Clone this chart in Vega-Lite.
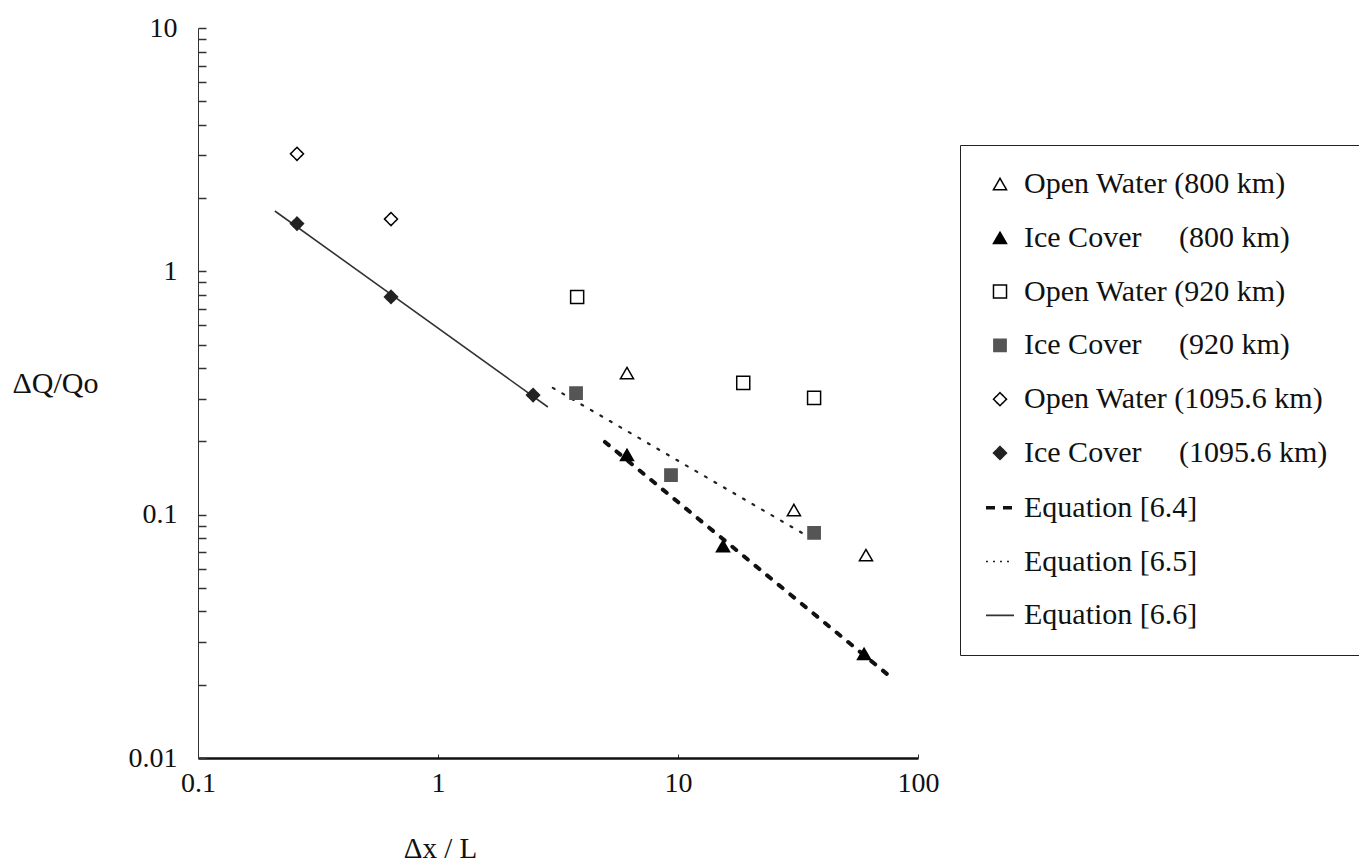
{
  "$schema": "https://vega.github.io/schema/vega-lite/v6.json",
  "width": 720,
  "height": 730,
  "autosize": {"type": "none"},
  "padding": {"left": 198, "top": 28, "right": 441, "bottom": 107},
  "background": "white",
  "config": {
    "view": {"stroke": null},
    "font": "Liberation Serif",
    "axis": {"grid": false, "labelFont": "Liberation Serif", "titleFont": "Liberation Serif", "labelColor": "#111", "titleColor": "#111", "titleFontWeight": "normal"},
    "legend": {"orient": "none", "legendX": 762, "legendY": 117, "titleOrient": "right", "titlePadding": 50, "titleFontSize": 10, "padding": 24, "rowPadding": 23.8, "strokeColor": "#222", "fillColor": "white", "labelOffset": 8, "labelFont": "Liberation Serif", "labelFontSize": 30, "labelLimit": 500, "labelColor": "#111", "labelBaseline": "middle"}
  },
  "datasets": {
    "points": [
      {"series": "Open Water (800 km)", "x": 6.13, "y": 0.382},
      {"series": "Open Water (800 km)", "x": 30.4, "y": 0.1045},
      {"series": "Open Water (800 km)", "x": 60.7, "y": 0.0682},
      {"series": "Ice Cover (800 km)", "x": 6.13, "y": 0.176},
      {"series": "Ice Cover (800 km)", "x": 15.4, "y": 0.0743},
      {"series": "Ice Cover (800 km)", "x": 59.6, "y": 0.0268},
      {"series": "Open Water (920 km)", "x": 3.80, "y": 0.785},
      {"series": "Open Water (920 km)", "x": 18.7, "y": 0.348},
      {"series": "Open Water (920 km)", "x": 36.9, "y": 0.302},
      {"series": "Ice Cover (920 km)", "x": 3.76, "y": 0.316},
      {"series": "Ice Cover (920 km)", "x": 9.35, "y": 0.1455},
      {"series": "Ice Cover (920 km)", "x": 36.9, "y": 0.0841},
      {"series": "Open Water (1095.6 km)", "x": 0.2585, "y": 3.04},
      {"series": "Open Water (1095.6 km)", "x": 0.637, "y": 1.64},
      {"series": "Ice Cover (1095.6 km)", "x": 0.2585, "y": 1.57},
      {"series": "Ice Cover (1095.6 km)", "x": 0.637, "y": 0.785},
      {"series": "Ice Cover (1095.6 km)", "x": 2.49, "y": 0.310}
    ],
    "equations": [
      {"series": "Equation [6.4]", "x": 4.96, "y": 0.199},
      {"series": "Equation [6.4]", "x": 77.9, "y": 0.0213},
      {"series": "Equation [6.5]", "x": 3.01, "y": 0.332},
      {"series": "Equation [6.5]", "x": 32.9, "y": 0.0841},
      {"series": "Equation [6.6]", "x": 0.209, "y": 1.77},
      {"series": "Equation [6.6]", "x": 2.87, "y": 0.277}
    ]
  },
  "encoding": {
    "x": {
      "field": "x", "type": "quantitative",
      "scale": {"type": "log", "domain": [0.1, 100], "nice": false},
      "title": "Δx / L",
      "axis": {
        "values": [0.1, 1, 10, 100],
        "labelExpr": "datum.value === 0.1 ? '0.1' : datum.value === 1 ? '1' : datum.value === 10 ? '10' : '100'",
        "labelFontSize": 28, "labelPadding": 29, "labelBaseline": "middle", "labelFlush": false, "labelOverlap": false,
        "tickSize": -4, "tickColor": "#333", "tickWidth": 1,
        "domainColor": "#111", "domainWidth": 2.5,
        "titleFontSize": 29, "titleX": 242, "titleY": 90, "titleAnchor": null, "titleAlign": "center", "titleBaseline": "middle"
      }
    },
    "y": {
      "field": "y", "type": "quantitative",
      "scale": {"type": "log", "domain": [0.01, 10], "nice": false},
      "title": "ΔQ/Qo",
      "axis": {
        "values": [0.01, 0.02, 0.03, 0.04, 0.05, 0.06, 0.07, 0.08, 0.09, 0.1, 0.2, 0.3, 0.4, 0.5, 0.6, 0.7, 0.8, 0.9, 1, 2, 3, 4, 5, 6, 7, 8, 9, 10],
        "labelExpr": "datum.value === 0.01 ? '0.01' : datum.value === 0.1 ? '0.1' : datum.value === 1 ? '1' : datum.value === 10 ? '10' : ''",
        "labelFontSize": 28, "labelPadding": 29, "labelFlush": false, "labelOverlap": false,
        "tickSize": -8, "tickColor": "#333", "tickWidth": 1.5,
        "domainColor": "#333", "domainWidth": 1,
        "titleFontSize": 30, "titleAngle": 0, "titleX": -143, "titleY": 355, "titleAlign": "center", "titleBaseline": "middle", "titleAnchor": null
      }
    }
  },
  "layer": [
    {
      "data": {"name": "equations"},
      "transform": [{"filter": "datum.series === 'Equation [6.6]'"}],
      "mark": {"type": "line", "stroke": "#333", "strokeWidth": 1.6},
      "encoding": {}
    },
    {
      "data": {"name": "equations"},
      "transform": [{"filter": "datum.series === 'Equation [6.5]'"}],
      "mark": {"type": "line", "stroke": "#222", "strokeWidth": 2.2, "strokeDash": [2, 9], "strokeCap": "round"},
      "encoding": {}
    },
    {
      "data": {"name": "equations"},
      "transform": [{"filter": "datum.series === 'Equation [6.4]'"}],
      "mark": {"type": "line", "stroke": "#111", "strokeWidth": 4, "strokeDash": [5, 10], "strokeCap": "round"},
      "encoding": {}
    },
    {
      "data": {"name": "points"},
      "mark": {"type": "point", "filled": false, "opacity": 1},
      "encoding": {
        "shape": {
          "field": "series", "type": "nominal",
          "scale": {
            "domain": ["Open Water (800 km)", "Ice Cover (800 km)", "Open Water (920 km)", "Ice Cover (920 km)", "Open Water (1095.6 km)", "Ice Cover (1095.6 km)", "Equation [6.4]", "Equation [6.5]", "Equation [6.6]"],
            "range": ["triangle-up", "triangle-up", "square", "square", "diamond", "diamond", "stroke", "stroke", "stroke"]
          },
          "legend": {"title": "\u00a0", "labelExpr": "replace(datum.label, 'Cover (', 'Cover\u00a0\u00a0\u00a0\u00a0\u00a0(')"}
        },
        "fill": {
          "field": "series", "type": "nominal",
          "scale": {
            "domain": ["Open Water (800 km)", "Ice Cover (800 km)", "Open Water (920 km)", "Ice Cover (920 km)", "Open Water (1095.6 km)", "Ice Cover (1095.6 km)", "Equation [6.4]", "Equation [6.5]", "Equation [6.6]"],
            "range": ["white", "black", "white", "#555", "white", "#222", "transparent", "transparent", "transparent"]
          },
          "legend": {"title": "\u00a0", "labelExpr": "replace(datum.label, 'Cover (', 'Cover\u00a0\u00a0\u00a0\u00a0\u00a0(')"}
        },
        "stroke": {
          "field": "series", "type": "nominal",
          "scale": {
            "domain": ["Open Water (800 km)", "Ice Cover (800 km)", "Open Water (920 km)", "Ice Cover (920 km)", "Open Water (1095.6 km)", "Ice Cover (1095.6 km)", "Equation [6.4]", "Equation [6.5]", "Equation [6.6]"],
            "range": ["black", "black", "black", "#555", "black", "#222", "#111", "#222", "#333"]
          },
          "legend": {"title": "\u00a0", "labelExpr": "replace(datum.label, 'Cover (', 'Cover\u00a0\u00a0\u00a0\u00a0\u00a0(')"}
        },
        "size": {
          "field": "series", "type": "nominal",
          "scale": {
            "type": "ordinal",
            "domain": ["Open Water (800 km)", "Ice Cover (800 km)", "Open Water (920 km)", "Ice Cover (920 km)", "Open Water (1095.6 km)", "Ice Cover (1095.6 km)", "Equation [6.4]", "Equation [6.5]", "Equation [6.6]"],
            "range": [170, 170, 170, 150, 170, 170, 784, 784, 784]
          },
          "legend": {"title": "\u00a0", "labelExpr": "replace(datum.label, 'Cover (', 'Cover\u00a0\u00a0\u00a0\u00a0\u00a0(')"}
        },
        "strokeWidth": {
          "field": "series", "type": "nominal",
          "scale": {
            "type": "ordinal",
            "domain": ["Open Water (800 km)", "Ice Cover (800 km)", "Open Water (920 km)", "Ice Cover (920 km)", "Open Water (1095.6 km)", "Ice Cover (1095.6 km)", "Equation [6.4]", "Equation [6.5]", "Equation [6.6]"],
            "range": [1.5, 1.5, 1.5, 1.5, 1.5, 1.5, 3.5, 1.5, 1.6]
          },
          "legend": {"title": "\u00a0", "labelExpr": "replace(datum.label, 'Cover (', 'Cover\u00a0\u00a0\u00a0\u00a0\u00a0(')"}
        },
        "strokeDash": {
          "field": "series", "type": "nominal",
          "scale": {
            "domain": ["Open Water (800 km)", "Ice Cover (800 km)", "Open Water (920 km)", "Ice Cover (920 km)", "Open Water (1095.6 km)", "Ice Cover (1095.6 km)", "Equation [6.4]", "Equation [6.5]", "Equation [6.6]"],
            "range": [[1, 0], [1, 0], [1, 0], [1, 0], [1, 0], [1, 0], [9, 8], [2, 5], [1, 0]]
          },
          "legend": {"title": "\u00a0", "labelExpr": "replace(datum.label, 'Cover (', 'Cover\u00a0\u00a0\u00a0\u00a0\u00a0(')"}
        }
      }
    }
  ]
}
